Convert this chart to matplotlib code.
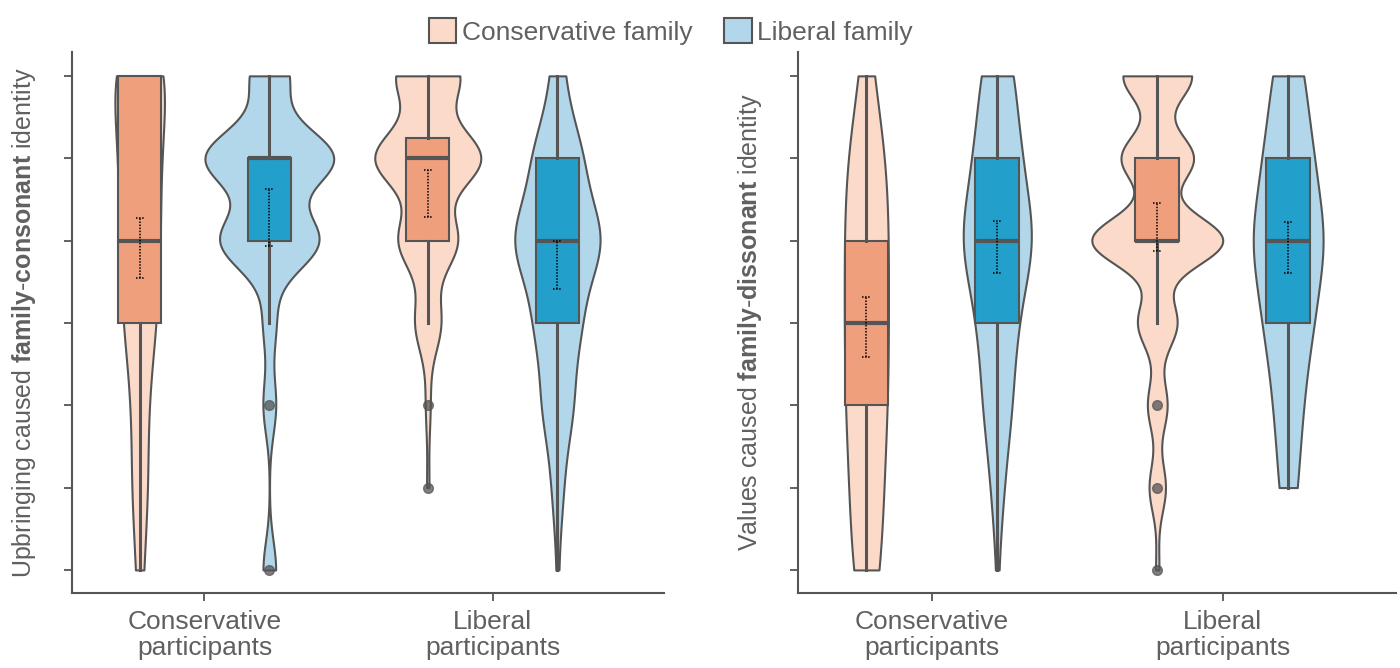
import numpy as np
import matplotlib
matplotlib.use("Agg")
import matplotlib.pyplot as plt
from matplotlib.patches import Patch

plt.rcParams['font.family'] = ['Liberation Sans', 'DejaVu Sans']
plt.rcParams['mathtext.fontset'] = 'custom'
plt.rcParams['mathtext.rm'] = 'Liberation Sans'
plt.rcParams['mathtext.bf'] = 'Liberation Sans:bold'

# réponses possibles (échelle de 1 à 7)
levels = [1, 2, 3, 4, 5, 6, 7]
groups = ["Conservative\nparticipants", "Liberal\nparticipants"]
families = ["Conservative family", "Liberal family"]

# nombre de réponses par niveau 1..7
# ordre : [cons/fam cons, cons/fam lib, lib/fam cons, lib/fam lib]
consonant_counts = [[1, 2, 2, 4, 5, 5, 7],
                    [3, 0, 3, 3, 23, 30, 9],
                    [0, 1, 2, 11, 25, 45, 27],
                    [1, 5, 14, 20, 40, 22, 6]]
dissonant_counts = [[3, 3, 4, 4, 4, 4, 1],
                    [1, 6, 14, 18, 36, 22, 16],
                    [1, 5, 6, 12, 40, 22, 21],
                    [0, 10, 15, 26, 40, 26, 17]]

# boîtes : q1, médiane, q3, moustache basse, moustache haute
consonant_q1 = [4, 5, 5, 4]
consonant_med = [5, 6, 6, 5]
consonant_q3 = [7, 6, 6.25, 6]
consonant_wlo = [1, 4, 4, 1]
consonant_whi = [7, 7, 7, 7]
consonant_out = [[], [3, 1], [3, 2], []]

dissonant_q1 = [3, 4, 5, 4]
dissonant_med = [4, 5, 5, 5]
dissonant_q3 = [5, 6, 6, 6]
dissonant_wlo = [1, 1, 4, 2]
dissonant_whi = [7, 7, 7, 7]
dissonant_out = [[], [], [3, 2, 1], []]

# moyenne et intervalle de confiance
consonant_mean = [4.92, 5.28, 5.58, 4.70]
consonant_lo = [4.55, 4.93, 5.29, 4.41]
consonant_hi = [5.27, 5.62, 5.86, 5.00]
dissonant_mean = [3.95, 4.92, 5.16, 4.92]
dissonant_lo = [3.59, 4.60, 4.87, 4.60]
dissonant_hi = [4.31, 5.24, 5.45, 5.23]

# style
light = ['#FBDACA', '#B2D7EA']
dark = ['#F09F7D', '#22A0CB']
edge = '#555555'
txt = '#606060'
dodge = 0.225

panels = [
    dict(counts=consonant_counts, q1=consonant_q1, med=consonant_med, q3=consonant_q3,
         wlo=consonant_wlo, whi=consonant_whi, out=consonant_out,
         mean=consonant_mean, lo=consonant_lo, hi=consonant_hi,
         bw=[0.6, 0.35, 0.35, 0.5], width=[0.172, 0.447, 0.368, 0.296],
         label="Upbringing caused $\\mathbf{family}$-$\\mathbf{consonant}$ identity"),
    dict(counts=dissonant_counts, q1=dissonant_q1, med=dissonant_med, q3=dissonant_q3,
         wlo=dissonant_wlo, whi=dissonant_whi, out=dissonant_out,
         mean=dissonant_mean, lo=dissonant_lo, hi=dissonant_hi,
         bw=[0.8, 0.6, 0.3, 0.6], width=[0.152, 0.234, 0.45, 0.24],
         label="Values caused $\\mathbf{family}$-$\\mathbf{dissonant}$ identity"),
]

fig = plt.figure(figsize=(14, 6.68), dpi=100)
axes = [fig.add_axes([0.0514, 0.1123, 0.4229, 0.8099]),
        fig.add_axes([0.570, 0.1123, 0.427, 0.8099])]

for ax, p in zip(axes, panels):
    for i in range(4):
        g, h = i // 2, i % 2
        x = g + (h - 0.5) * 2 * dodge
        data = np.repeat(levels, p['counts'][i]).astype(float)
        vp = ax.violinplot([data], positions=[x], widths=p['width'][i], points=300,
                           showextrema=False,
                           bw_method=lambda kde, s=p['bw'][i]: s / np.std(kde.dataset, ddof=1))
        for body in vp['bodies']:
            body.set_facecolor(light[h])
            body.set_edgecolor(edge)
            body.set_linewidth(1.5)
            body.set_alpha(1)
            body.set_zorder(1)
        stats = [dict(q1=p['q1'][i], med=p['med'][i], q3=p['q3'][i],
                      whislo=p['wlo'][i], whishi=p['whi'][i], fliers=p['out'][i])]
        ax.bxp(stats, positions=[x], widths=0.15, patch_artist=True, showcaps=False,
               manage_ticks=False, zorder=2,
               boxprops=dict(facecolor=dark[h], edgecolor=edge, linewidth=1.5),
               medianprops=dict(color=edge, linewidth=3, solid_capstyle='butt'),
               whiskerprops=dict(color=edge, linewidth=2.2),
               flierprops=dict(marker='o', markerfacecolor=edge, markeredgecolor=edge,
                               markersize=7, alpha=0.75))
        ax.vlines(x, p['lo'][i], p['hi'][i], colors='black', linestyles=(0, (1, 1)),
                  linewidth=1.1, zorder=3)
        ax.hlines([p['lo'][i], p['hi'][i]], x - 0.014, x + 0.014, colors='black',
                  linestyles=(0, (1, 1)), linewidth=1.1, zorder=3)

    ax.set_xlim(-0.46, 1.595)
    ax.set_ylim(0.72, 7.29)
    ax.set_xticks([0, 1])
    ax.set_xticklabels(groups, fontsize=19, color=txt, linespacing=1.1)
    ax.set_yticks(levels)
    ax.set_yticklabels([])
    ax.tick_params(axis='both', length=6, width=1.3, color=edge)
    ax.tick_params(axis='x', pad=6)
    for s in ['top', 'right']:
        ax.spines[s].set_visible(False)
    for s in ['left', 'bottom']:
        ax.spines[s].set_color(edge)
        ax.spines[s].set_linewidth(1.5)
    ax.set_ylabel(p['label'], fontsize=18, color=txt, labelpad=15)

handles = [Patch(facecolor=light[0], edgecolor=edge, linewidth=1.5, label=families[0]),
           Patch(facecolor=light[1], edgecolor=edge, linewidth=1.5, label=families[1])]
leg = fig.legend(handles=handles, loc='upper center', bbox_to_anchor=(0.479, 1.008), ncol=2,
                 frameon=False, fontsize=19, handlelength=1.05, handleheight=1.05,
                 handletextpad=0.2, columnspacing=1.2)
for t in leg.get_texts():
    t.set_color(txt)

fig.savefig("out.png", dpi=100)
